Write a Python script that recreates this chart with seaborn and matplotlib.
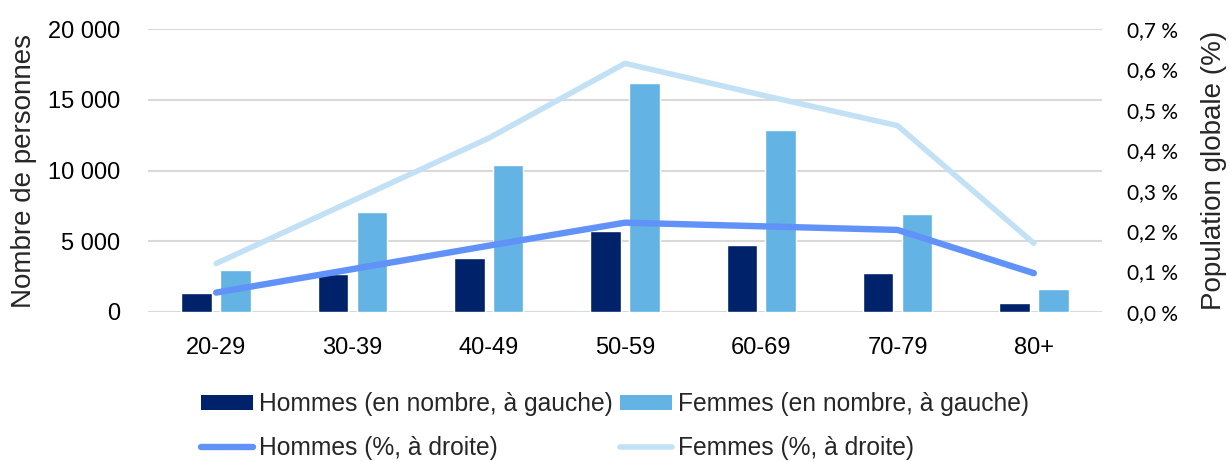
import matplotlib
matplotlib.use("Agg")
import matplotlib.pyplot as plt
from matplotlib.patches import Patch
from matplotlib.lines import Line2D
import numpy as np
import pandas as pd
import seaborn as sns

# Tranches d'âge et effectifs
ages = ["20-29", "30-39", "40-49", "50-59", "60-69", "70-79", "80+"]
hommes_nb = [1350, 2700, 3850, 5700, 4750, 2750, 620]
femmes_nb = [2950, 7100, 10400, 16200, 12850, 6950, 1650]
# Part dans la population globale (%)
hommes_pct = [0.048, 0.106, 0.164, 0.221, 0.212, 0.203, 0.096]
femmes_pct = [0.120, 0.275, 0.430, 0.615, 0.537, 0.461, 0.170]

lbl_h_nb = "Hommes (en nombre, à gauche)"
lbl_f_nb = "Femmes (en nombre, à gauche)"
lbl_h_pct = "Hommes (%, à droite)"
lbl_f_pct = "Femmes (%, à droite)"

c_h_bar = "#00226A"
c_f_bar = "#63B4E4"
c_h_line = "#6192F8"
c_f_line = "#C2E1F5"

sns.set_theme(style="white")
plt.rcParams["font.family"] = ["Liberation Sans", "DejaVu Sans"]

W, H = 1229, 462

bars = pd.DataFrame({
    "age": ages * 2,
    "valeur": hommes_nb + femmes_nb,
    "serie": [lbl_h_nb] * len(ages) + [lbl_f_nb] * len(ages),
})
pos = np.arange(len(ages))
lines_h = pd.DataFrame({"pos": pos, "pct": hommes_pct})
lines_f = pd.DataFrame({"pos": pos, "pct": femmes_pct})

fig = plt.figure(figsize=(W / 100, H / 100), dpi=100)
ax = fig.add_axes([148 / W, 1 - 312 / H, (1102 - 148) / W, (312 - 29) / H])

sns.barplot(data=bars, x="age", y="valeur", hue="serie", order=ages,
            palette=[c_h_bar, c_f_bar], width=0.57, gap=0.21,
            saturation=1, legend=False, ax=ax)

ax.set_xlim(-0.5, len(ages) - 0.5)
ax.set_ylim(0, 20000)
ax.set_yticks(np.arange(0, 20001, 5000))
ax.set_yticklabels([f"{v:,}".replace(",", " ") for v in range(0, 20001, 5000)])
ax.yaxis.grid(True, color="#D9D9D9", linewidth=1.5)
ax.set_axisbelow(True)
for s in ax.spines.values():
    s.set_visible(False)
ax.tick_params(axis="both", length=0, labelsize=17, colors="#000000")
ax.tick_params(axis="x", pad=18)
ax.tick_params(axis="y", pad=20)
ax.set_xlabel("")
ax.set_ylabel("")

ax2 = ax.twinx()
sns.lineplot(data=lines_h, x="pos", y="pct", color=c_h_line, linewidth=4.6,
             solid_capstyle="round", ax=ax2)
sns.lineplot(data=lines_f, x="pos", y="pct", color=c_f_line, linewidth=4.0,
             solid_capstyle="round", ax=ax2)
ax2.set_ylim(0, 0.7)
pticks = np.round(np.arange(0, 0.71, 0.1), 1)
ax2.set_yticks(pticks)
ax2.set_yticklabels([f"{t:.1f} %".replace(".", ",") for t in pticks],
                    fontfamily="Lato", fontsize=15)
for s in ax2.spines.values():
    s.set_visible(False)
ax2.tick_params(axis="y", length=0, pad=18, colors="#000000")
ax2.set_xlabel("")
ax2.set_ylabel("")
ax2.set_xlim(-0.5, len(ages) - 0.5)

# Titres des axes verticaux
yc = 1 - 170.5 / H
fig.text(24 / W, yc, "Nombre de personnes", rotation=90, fontsize=20,
         ha="center", va="center")
fig.text(1214 / W, yc, "Population globale (%)", rotation=90, fontsize=20,
         ha="center", va="center")

handles = [
    Patch(facecolor=c_h_bar, edgecolor="none"),
    Line2D([], [], color=c_h_line, linewidth=4.6, solid_capstyle="round"),
    Patch(facecolor=c_f_bar, edgecolor="none"),
    Line2D([], [], color=c_f_line, linewidth=4.0, solid_capstyle="round"),
]
labels = [lbl_h_nb, lbl_h_pct, lbl_f_nb, lbl_f_pct]
fig.legend(handles, labels, ncol=2, loc="upper left",
           bbox_to_anchor=(201 / W, 1 - 392 / H),
           frameon=False, fontsize=17.7, borderpad=0, borderaxespad=0,
           handlelength=2.1, handleheight=0.6, handletextpad=0.25,
           columnspacing=0.3, labelspacing=0.82)

fig.savefig("out.png", dpi=100)
